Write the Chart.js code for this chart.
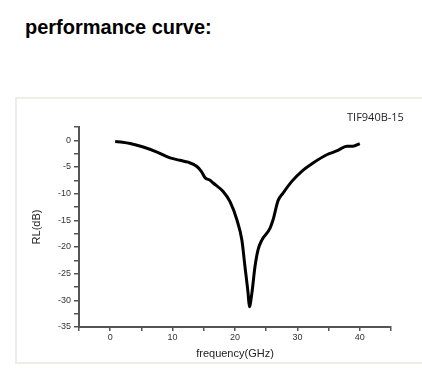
<!DOCTYPE html>
<html>
<head>
<meta charset="utf-8">
<script src="https://cdn.jsdelivr.net/npm/chart.js@4/dist/chart.umd.min.js"></script>
<style>
  body { margin: 0; background: #fff; }
  #wrap { position: relative; width: 422px; height: 385px; overflow: hidden; }
  #heading {
    position: absolute; left: 25px; top: 16px; margin: 0;
    font: bold 20px "Liberation Sans", Arial, sans-serif; color: #000;
  }
  #box {
    position: absolute; left: 15px; top: 97px; width: 420px; height: 263px;
    border: 2px solid #efede6; border-right: none;
  }
  #model {
    position: absolute; left: 347px; top: 109px;
    font: 11px "Open Sans", sans-serif; color: #222;
  }
  canvas { position: absolute; left: 0; top: 0; }
</style>
</head>
<body>
<div id="wrap">
  <h1 id="heading">performance curve:</h1>
  <div id="box"></div>
  <canvas id="chart" width="422" height="385"></canvas>
  <div id="model">TIF940B-15</div>
</div>
<script>
// frequency in GHz, return loss in dB
const freq = [0.8, 2, 3.2, 5.3, 7.5, 9.6, 11.2, 12.5, 13.9, 14.6, 15.2, 16, 16.5, 18.1, 19.2, 20.3, 21.1, 21.6, 22.1, 22.3, 22.7, 23.2, 23.7, 24.3, 25.6, 26.1, 26.9, 27.7, 29.1, 30.7, 32.5, 34.7, 36.5, 37.9, 38.9, 40];
const rl = [-0.2, -0.35, -0.6, -1.25, -2.2, -3.3, -3.75, -4.1, -4.9, -5.8, -7.0, -7.5, -8.0, -9.6, -11.5, -14.9, -18.7, -23.7, -28.7, -31.2, -28.7, -23.7, -20.5, -18.7, -16.5, -14.9, -11.3, -9.9, -7.7, -5.8, -4.25, -2.7, -1.9, -1.1, -1.1, -0.6];

const xTicks = [-5, 0, 5, 10, 15, 20, 25, 30, 35, 40, 45];
const xLabels = [0, 10, 20, 30, 40];
const yTicks = [-35, -32.5, -30, -27.5, -25, -22.5, -20, -17.5, -15, -12.5, -10, -7.5, -5, -2.5, 0, 2.5];
const yLabels = [-35, -30, -25, -20, -15, -10, -5, 0];

const axisColor = "#555";
const tickFont = { family: "Liberation Sans", size: 9 };

const points = freq.map((f, i) => ({ x: f, y: rl[i] }));

new Chart(document.getElementById("chart"), {
  type: "line",
  data: {
    datasets: [{
      data: points,
      borderColor: "#000",
      borderWidth: 3,
      pointRadius: 0,
      tension: 0.4,
      cubicInterpolationMode: "monotone",
      fill: false,
    }],
  },
  options: {
    responsive: false,
    animation: false,
    layout: { padding: { left: 16, right: 31, top: 127, bottom: 22 } },
    plugins: { legend: { display: false }, tooltip: { enabled: false } },
    scales: {
      x: {
        type: "linear",
        min: -5,
        max: 45,
        afterBuildTicks: (s) => { s.ticks = xTicks.map((v) => ({ value: v })); },
        afterFit: (s) => { s.height = 36; },
        ticks: {
          autoSkip: false,
          maxRotation: 0,
          padding: 1,
          color: "#333",
          font: tickFont,
          callback: (v) => (xLabels.includes(v) ? String(v) : ""),
        },
        grid: { drawOnChartArea: false, drawTicks: true, tickLength: 4, color: axisColor, lineWidth: 1.5 },
        border: { display: true, color: axisColor, width: 2 },
        title: {
          display: true,
          text: "frequency(GHz)",
          color: "#222",
          font: { family: "Liberation Sans", size: 11 },
          padding: { top: 0, bottom: 2 },
        },
      },
      y: {
        type: "linear",
        min: -35,
        max: 2.5,
        afterBuildTicks: (s) => { s.ticks = yTicks.map((v) => ({ value: v })); },
        afterFit: (s) => { s.width = 63; },
        ticks: {
          autoSkip: false,
          padding: 3,
          color: "#333",
          font: tickFont,
          callback: (v) => (yLabels.includes(v) ? String(v) : ""),
        },
        grid: { drawOnChartArea: false, drawTicks: true, tickLength: 5, color: axisColor, lineWidth: 1.5 },
        border: { display: true, color: axisColor, width: 2 },
        title: {
          display: true,
          text: "RL(dB)",
          color: "#222",
          font: { family: "Liberation Sans", size: 11 },
          padding: { top: 14, bottom: 0 },
        },
      },
    },
  },
});
</script>
</body>
</html>
